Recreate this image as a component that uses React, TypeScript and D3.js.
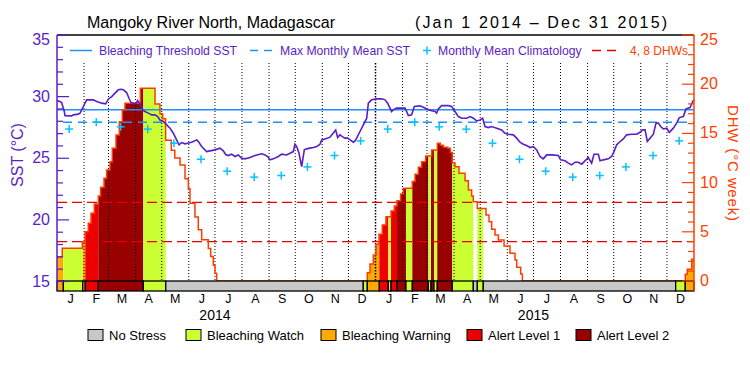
import React from 'react';
import * as d3 from 'd3';

const W = 750;
const H = 375;
const PLOT = { left: 57, right: 694, top: 35, bottom: 281 };

const titleMain = 'Mangoky River North, Madagascar';
const titleRange = '(Jan 1 2014 \u2013 Dec 31 2015)';
const monthLetters = ['J', 'F', 'M', 'A', 'M', 'J', 'J', 'A', 'S', 'O', 'N', 'D'];
const years = [2014, 2015];
const sstTicks = [15, 20, 25, 30, 35];
const dhwTicks = [0, 5, 10, 15, 20, 25];

// daily SST (day index from Jan 1 2014)
const sstDays = [0, 3.4, 5.3, 8.4, 9.2, 16.8, 18.7, 24.4, 26.4, 30.2, 34, 41.6, 45.5, 51.2, 55.8, 58.8, 62.7, 66.5, 70.3, 73.3, 76, 79.8, 82.5, 84.8, 87.5, 90.2, 92.4, 95.1, 97.8, 100.8, 104.7, 108.5, 112.3, 115.4, 118, 121.9, 123.8, 129.5, 133.3, 137.1, 139.8, 142.9, 146.7, 149.8, 154.3, 160.1, 162, 165.8, 171.5, 175.3, 181.1, 186.8, 190.6, 193.3, 196.3, 200.2, 204, 207.8, 211.6, 215.4, 221.2, 226.9, 234.6, 238.4, 241.4, 244.1, 247.9, 253.6, 257.5, 263.2, 267, 270.8, 272.7, 274.7, 277.3, 280.4, 283.4, 286.1, 289.9, 293.8, 297.6, 301.4, 303.3, 307.1, 312.9, 315.5, 319.4, 321.6, 324.3, 327, 330, 333.1, 335.8, 339.6, 341.5, 343.4, 347.2, 351.1, 354.9, 356.8, 360.6, 366.3, 372.1, 375.9, 378.9, 381.6, 383.5, 385.4, 389.3, 395, 398.8, 400.7, 402.6, 406.4, 409.5, 416, 421.7, 425.5, 429.4, 433.2, 435.1, 437, 440.8, 448.5, 452.3, 456.1, 459.9, 463.8, 469.5, 473.3, 477.1, 480.9, 484.8, 487.8, 490.5, 494.3, 498.1, 503.9, 509.6, 513.4, 517.2, 523, 526.8, 530.6, 534.4, 538.2, 542.1, 545.9, 549.7, 553.5, 557.3, 561.2, 566.9, 574.5, 577.2, 582.2, 586, 589.8, 593.6, 597.4, 601.3, 605.1, 608.9, 612.7, 615.4, 620.4, 622.3, 626.1, 631.8, 635.6, 638.3, 641.4, 644.4, 649, 652.8, 658.6, 664.3, 668.1, 671.2, 673.9, 676.5, 679.6, 683.4, 686.5, 689.1, 691.8, 694.9, 698.7, 701.7, 706.3, 710.1, 713.2, 717.8, 720.8, 725.4, 728.5, 730];
const sstValues = [29.68, 29.6, 29.52, 28.79, 28.46, 28.44, 28.52, 28.58, 28.66, 29.2, 29.74, 29.74, 29.6, 29.47, 29.41, 29.79, 30.0, 30.28, 30.55, 30.6, 30.55, 30.33, 29.87, 29.52, 29.47, 29.41, 29.68, 29.41, 28.93, 28.79, 28.66, 28.52, 28.52, 28.38, 28.1, 27.98, 27.85, 27.44, 27.03, 26.49, 26.09, 26.27, 26.17, 26.22, 26.3, 26.49, 26.35, 25.95, 25.54, 25.6, 25.68, 25.82, 25.6, 25.3, 25.22, 25.33, 25.14, 25.27, 25.0, 24.95, 25.06, 25.22, 25.36, 25.27, 25.14, 24.87, 24.95, 25.14, 25.33, 25.27, 25.41, 25.54, 26.14, 25.95, 25.41, 24.33, 25.68, 25.76, 25.82, 25.87, 25.95, 26.14, 26.49, 26.57, 26.71, 26.95, 27.3, 26.68, 26.9, 26.76, 26.63, 26.63, 26.49, 26.3, 26.41, 26.63, 27.17, 27.71, 28.25, 29.47, 29.74, 29.82, 29.82, 29.74, 29.47, 29.07, 28.79, 28.93, 29.07, 29.07, 29.07, 28.79, 28.46, 28.52, 29.2, 29.25, 29.07, 28.93, 28.85, 28.79, 28.66, 29.0, 29.27, 29.27, 29.2, 28.79, 28.38, 28.25, 28.25, 28.38, 28.25, 28.03, 28.11, 28.25, 27.57, 27.49, 27.57, 27.44, 27.3, 27.03, 26.95, 26.9, 26.63, 26.3, 26.14, 26.03, 25.87, 25.95, 25.68, 25.14, 24.95, 25.27, 25.27, 25.22, 24.87, 24.79, 24.6, 24.46, 24.68, 24.68, 24.52, 24.79, 25.06, 24.6, 25.33, 25.33, 24.79, 24.87, 24.95, 25.14, 25.54, 26.09, 26.3, 26.57, 26.9, 26.95, 26.95, 27.11, 27.3, 27.3, 26.36, 26.63, 26.95, 27.85, 27.85, 27.57, 27.38, 27.44, 27.1, 27.44, 27.85, 28.3, 28.38, 29.0, 29.11, 29.6, 29.74];

// Degree Heating Weeks (step series)
const dhwDays = [0, 6, 29, 32.1, 35.9, 39, 42.8, 47.4, 50, 53.9, 56.9, 60.7, 63.4, 67.6, 71.4, 74.9, 77.9, 95.5, 112.3, 118, 121, 124.5, 131, 135, 141, 146.7, 150.5, 152.4, 158.1, 161.9, 165.8, 173.4, 176.1, 179.1, 181.1, 183, 355.6, 358.7, 362.5, 365.6, 369, 372.8, 377, 382.8, 386.6, 389.6, 393.8, 396.9, 407.2, 410.3, 414.1, 417.9, 422.5, 429.4, 435.9, 439.3, 442.7, 447.7, 450.8, 453, 456.1, 460.7, 467.6, 471.4, 475.2, 477.1, 481.7, 491.6, 495.1, 498.1, 502, 505.8, 512.3, 519.1, 524.9, 526.8, 531.4, 533.3, 720, 722.3, 727.4, 730];
const dhwValues = [2.47, 3.32, 4.0, 5.0, 5.86, 6.88, 7.82, 8.64, 9.52, 10.43, 11.28, 12.13, 13.48, 14.84, 16.19, 17.38, 18.06, 19.58, 18.0, 17.0, 16.5, 14.3, 13.3, 12.5, 11.8, 10.4, 9.4, 7.9, 6.5, 5.2, 4.2, 3.3, 2.5, 1.6, 0.8, 0, 0.85, 1.73, 2.64, 3.73, 4.74, 5.69, 6.54, 7.11, 7.62, 8.16, 8.84, 9.42, 10.1, 10.84, 11.55, 12.13, 12.7, 13.31, 14.0, 13.8, 13.6, 13.48, 13.07, 12.0, 11.6, 10.95, 10.2, 9.25, 8.64, 8.06, 7.38, 6.7, 6.03, 5.25, 4.67, 4.17, 3.56, 2.81, 2.13, 1.39, 0.71, 0, 0.68, 1.2, 2.2, 2.2];

const climatology = [27.37, 27.93, 27.55, 27.36, 26.22, 24.92, 23.95, 23.47, 23.6, 24.3, 25.22, 26.41];
const maxMonthlyMean = 27.93;
const bleachingThreshold = 28.93;
const dhwLevels = [4, 8];

// stress level per period: 0 none,1 watch,2 warning,3 alert1,4 alert2
const statusBreaks = [0, 7.3, 29.5, 32.4, 47.3, 98.9, 124.6, 351, 355.6, 369.4, 379.7, 382.8, 389.6, 399.9, 407.2, 425.5, 428.6, 432, 435.8, 453, 477.1, 481.7, 488.5, 709, 720, 730];
const statusLevels = [2, 1, 2, 3, 4, 1, 0, 1, 2, 3, 1, 3, 4, 1, 4, 1, 4, 1, 4, 1, 0, 1, 0, 1, 2];
const statusNames = ['No Stress', 'Bleaching Watch', 'Bleaching Warning', 'Alert Level 1', 'Alert Level 2'];
const statusColors = ['#c8c8c8', '#ccff33', '#ffaa00', '#ee0000', '#990000'];

const PURPLE = '#5a1ec8';
const BLUE = '#1e90ff';
const CYAN = '#00c4ff';
const DHW_LINE = '#ff3c00';
const DHW_DASH = '#e60000';
const RIGHT = '#ff4000';
const FONT = '"Liberation Sans", Arial, sans-serif';

const T0 = Date.UTC(2014, 0, 1);
const dayDate = (d: number) => new Date(T0 + d * 86400000);

export default function App() {
  const x = d3.scaleUtc().domain([new Date(T0), new Date(Date.UTC(2016, 0, 1))]).range([PLOT.left, PLOT.right]);
  const dx = (d: number) => x(dayDate(d));
  const ySst = d3.scaleLinear().domain([15, 35]).range([281.5, PLOT.top]);
  const yDhw = d3.scaleLinear().domain([0, 25]).range([281, PLOT.top]);

  const sstPts: [number, number][] = sstDays.map((d, i) => [d, sstValues[i]]);
  const dhwPts: [number, number][] = dhwDays.map((d, i) => [d, dhwValues[i]]);

  const sstLine = d3.line<[number, number]>().x(p => dx(p[0])).y(p => ySst(p[1]));
  const dhwLine = d3.line<[number, number]>().curve(d3.curveStepAfter).x(p => dx(p[0])).y(p => yDhw(p[1]));
  const dhwArea = d3.area<[number, number]>().curve(d3.curveStepAfter).x(p => dx(p[0])).y0(yDhw(0)).y1(p => yDhw(p[1]));

  const monthStarts = d3.utcMonth.range(new Date(T0), new Date(Date.UTC(2016, 0, 1)));
  const gridMonths = monthStarts.slice(1);

  const segs = statusLevels.map((lvl, i) => ({ lvl, a: statusBreaks[i], b: statusBreaks[i + 1] }));

  const sstMinor = d3.range(15, 36, 1);
  const dhwMinor = d3.range(0, 26, 1);

  const crosses: { cx: number; cy: number }[] = [];
  years.forEach(yr => {
    climatology.forEach((v, m) => {
      crosses.push({ cx: x(new Date(Date.UTC(yr, m, 15))), cy: ySst(v) });
    });
  });

  const legendX = [88, 186, 321, 467, 576];

  return (
    <svg width={W} height={H} style={{ position: 'absolute', left: 0, top: 0, background: '#fff' }} fontFamily={FONT}>
      <rect x={0} y={0} width={W} height={H} fill="#fff" />
      <defs>
        {segs.map((s, i) => (
          <clipPath id={`seg${i}`} key={i}>
            <rect x={dx(s.a)} y={0} width={dx(s.b) - dx(s.a)} height={H} />
          </clipPath>
        ))}
      </defs>

      {/* title */}
      <text x={87} y={28} fontSize={16} fill="#000" textLength={248} lengthAdjust="spacingAndGlyphs">{titleMain}</text>
      <text x={415} y={28} fontSize={16} fill="#000" textLength={252} lengthAdjust="spacing">{titleRange}</text>

      {/* DHW fills by stress level */}
      {segs.map((s, i) => s.lvl > 0 ? (
        <path key={i} d={dhwArea(dhwPts) || ''} fill={statusColors[s.lvl]} clipPath={`url(#seg${i})`} />
      ) : null)}

      {/* month gridlines */}
      {gridMonths.map((m, i) => {
        const isYear = m.getUTCMonth() === 0;
        return (
          <line key={i} x1={x(m)} x2={x(m)} y1={63} y2={PLOT.bottom} stroke="#000" strokeWidth={isYear ? 1.5 : 1} strokeDasharray={isYear ? '1.5,1.5' : '1,2'} />
        );
      })}

      {/* DHW 4, 8 lines */}
      {dhwLevels.map(v => (
        <line key={v} x1={PLOT.left} x2={PLOT.right} y1={yDhw(v)} y2={yDhw(v)} stroke={DHW_DASH} strokeWidth={1.2} strokeDasharray="10,5" />
      ))}

      {/* threshold and MMM */}
      <line x1={PLOT.left} x2={PLOT.right} y1={ySst(bleachingThreshold)} y2={ySst(bleachingThreshold)} stroke={BLUE} strokeWidth={1.5} />
      <line x1={PLOT.left + 6} x2={PLOT.right} y1={ySst(maxMonthlyMean)} y2={ySst(maxMonthlyMean)} stroke={BLUE} strokeWidth={1.5} strokeDasharray="9,6" />

      {/* DHW line */}
      <path d={dhwLine(dhwPts) || ''} fill="none" stroke={DHW_LINE} strokeWidth={1.5} />

      {/* SST line */}
      <path d={sstLine(sstPts) || ''} fill="none" stroke={PURPLE} strokeWidth={1.6} />

      {/* climatology crosses */}
      {crosses.map((c, i) => (
        <g key={i} stroke={CYAN} strokeWidth={1.5}>
          <line x1={c.cx - 4} x2={c.cx + 4} y1={c.cy} y2={c.cy} />
          <line x1={c.cx} x2={c.cx} y1={c.cy - 4} y2={c.cy + 4} />
        </g>
      ))}

      {/* status bar */}
      {segs.map((s, i) => (
        <rect key={i} x={dx(s.a)} y={281} width={dx(s.b) - dx(s.a)} height={10} fill={statusColors[s.lvl]} stroke="#000" strokeWidth={1.3} />
      ))}

      {/* frame */}
      <line x1={PLOT.left} x2={PLOT.right} y1={PLOT.top} y2={PLOT.top} stroke="#000" strokeWidth={1.5} />
      <line x1={PLOT.left} x2={PLOT.left} y1={PLOT.top} y2={291} stroke={PURPLE} strokeWidth={1.5} />
      <line x1={PLOT.right} x2={PLOT.right} y1={PLOT.top} y2={291} stroke={RIGHT} strokeWidth={1.5} />

      {/* left axis */}
      {sstMinor.map(v => (
        <line key={v} x1={PLOT.left} x2={PLOT.left + (v % 5 === 0 ? 12 : 6)} y1={ySst(v)} y2={ySst(v)} stroke={PURPLE} strokeWidth={1.2} />
      ))}
      {sstTicks.map(v => (
        <text key={v} x={50} y={v === 35 ? 45 : ySst(v) + 5} textAnchor="end" fontSize={16} fill={PURPLE}>{v}</text>
      ))}
      <text transform="translate(23,155) rotate(-90)" textAnchor="middle" fontSize={16} fill={PURPLE}>SST (°C)</text>

      {/* right axis */}
      {dhwMinor.map(v => (
        <line key={v} x1={PLOT.right} x2={PLOT.right - (v % 5 === 0 ? 12 : 6)} y1={yDhw(v)} y2={yDhw(v)} stroke={RIGHT} strokeWidth={1.2} />
      ))}
      {dhwTicks.map(v => (
        <text key={v} x={700} y={v === 25 ? 45 : yDhw(v) + 5} textAnchor="start" fontSize={16} fill={RIGHT}>{v}</text>
      ))}
      <text transform="translate(728,163) rotate(90)" textAnchor="middle" fontSize={15} fill={RIGHT} textLength={116} lengthAdjust="spacing">DHW (°C week)</text>

      {/* month labels */}
      {monthStarts.map((m, i) => {
        const next = d3.utcMonth.offset(m, 1);
        return (
          <text key={i} x={(x(m) + x(next)) / 2} y={303} textAnchor="middle" fontSize={12.5} fill="#000">{monthLetters[m.getUTCMonth()]}</text>
        );
      })}
      {years.map(yr => (
        <text key={yr} x={x(new Date(Date.UTC(yr, 6, 1)))} y={320} textAnchor="middle" fontSize={14} fill="#000">{yr}</text>
      ))}

      {/* top legend */}
      <line x1={70} x2={92} y1={50.5} y2={50.5} stroke={BLUE} strokeWidth={1.5} />
      <text x={99} y={54.5} fontSize={12.2} fill={PURPLE}>Bleaching Threshold SST</text>
      <line x1={250} x2={274} y1={50.5} y2={50.5} stroke={BLUE} strokeWidth={1.5} strokeDasharray="8,6" />
      <text x={280} y={54.5} fontSize={12.2} fill={PURPLE}>Max Monthly Mean SST</text>
      <g stroke={CYAN} strokeWidth={1.5}>
        <line x1={423} x2={431} y1={50.5} y2={50.5} />
        <line x1={427} x2={427} y1={46.5} y2={54.5} />
      </g>
      <text x={438} y={54.5} fontSize={12.2} fill={PURPLE}>Monthly Mean Climatology</text>
      <line x1={592} x2={622} y1={50.5} y2={50.5} stroke={DHW_DASH} strokeWidth={1.5} strokeDasharray="9,6" />
      <text x={630} y={54.5} fontSize={12} fill={RIGHT}>4, 8 DHWs</text>

      {/* bottom legend */}
      {statusNames.map((n, i) => (
        <g key={n}>
          <rect x={legendX[i]} y={329.5} width={15} height={11} fill={statusColors[i]} stroke="#000" strokeWidth={1} />
          <text x={legendX[i] + 21} y={340} fontSize={13} fill="#000">{n}</text>
        </g>
      ))}
    </svg>
  );
}
